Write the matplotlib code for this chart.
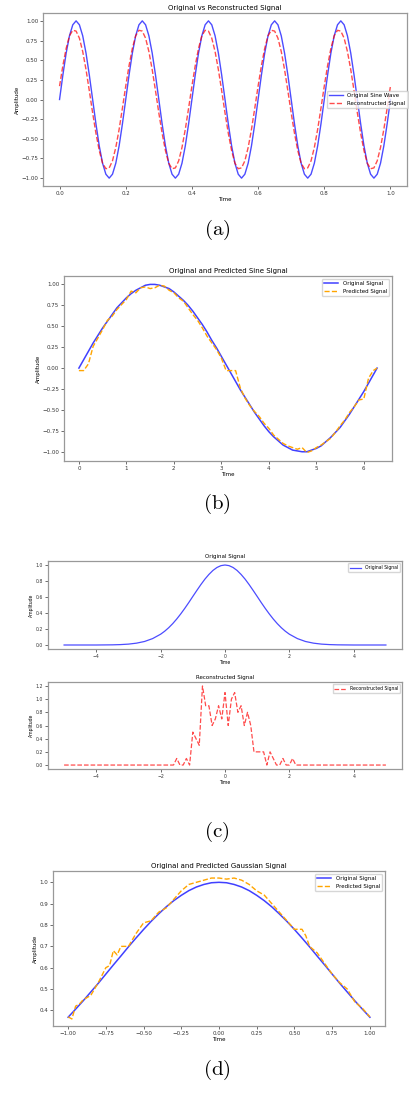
import numpy as np
import matplotlib
matplotlib.use('Agg')
import matplotlib.pyplot as plt

plt.rcParams['mathtext.fontset'] = 'cm'

# (a) 5 Hz sine, 0..1 s
t_a = [round(0.01 * i, 2) for i in range(101)]
orig_a = [0, 0.31, 0.59, 0.81, 0.95, 1.0, 0.95, 0.81, 0.59, 0.31, 0, -0.31, -0.59, -0.81, -0.95, -1.0, -0.95, -0.81, -0.59, -0.31,
          0, 0.31, 0.59, 0.81, 0.95, 1.0, 0.95, 0.81, 0.59, 0.31, 0, -0.31, -0.59, -0.81, -0.95, -1.0, -0.95, -0.81, -0.59, -0.31,
          0, 0.31, 0.59, 0.81, 0.95, 1.0, 0.95, 0.81, 0.59, 0.31, 0, -0.31, -0.59, -0.81, -0.95, -1.0, -0.95, -0.81, -0.59, -0.31,
          0, 0.31, 0.59, 0.81, 0.95, 1.0, 0.95, 0.81, 0.59, 0.31, 0, -0.31, -0.59, -0.81, -0.95, -1.0, -0.95, -0.81, -0.59, -0.31,
          0, 0.31, 0.59, 0.81, 0.95, 1.0, 0.95, 0.81, 0.59, 0.31, 0, -0.31, -0.59, -0.81, -0.95, -1.0, -0.95, -0.81, -0.59, -0.31,
          0]
recon_a = [0.17, 0.43, 0.65, 0.81, 0.88, 0.87, 0.78, 0.61, 0.38, 0.11, -0.17, -0.43, -0.65, -0.81, -0.88, -0.87, -0.78, -0.61, -0.38, -0.11,
           0.17, 0.43, 0.65, 0.81, 0.88, 0.87, 0.78, 0.61, 0.38, 0.11, -0.17, -0.43, -0.65, -0.81, -0.88, -0.87, -0.78, -0.61, -0.38, -0.11,
           0.17, 0.43, 0.65, 0.81, 0.88, 0.87, 0.78, 0.61, 0.38, 0.11, -0.17, -0.43, -0.65, -0.81, -0.88, -0.87, -0.78, -0.61, -0.38, -0.11,
           0.17, 0.43, 0.65, 0.81, 0.88, 0.87, 0.78, 0.61, 0.38, 0.11, -0.17, -0.43, -0.65, -0.81, -0.88, -0.87, -0.78, -0.61, -0.38, -0.11,
           0.17, 0.43, 0.65, 0.81, 0.88, 0.87, 0.78, 0.61, 0.38, 0.11, -0.17, -0.43, -0.65, -0.81, -0.88, -0.87, -0.78, -0.61, -0.38, -0.11,
           0.17]

# (b) one period of sine
t_b = [round(0.1 * i, 1) for i in range(63)] + [6.28]
orig_b = [0.00, 0.10, 0.20, 0.30, 0.39, 0.48, 0.56, 0.64, 0.72, 0.78, 0.84, 0.89, 0.93, 0.96, 0.99, 1.00,
          1.00, 0.99, 0.97, 0.95, 0.91, 0.86, 0.81, 0.75, 0.68, 0.60, 0.52, 0.43, 0.33, 0.24, 0.14, 0.04,
          -0.06, -0.16, -0.26, -0.35, -0.44, -0.53, -0.61, -0.69, -0.76, -0.82, -0.87, -0.92, -0.95, -0.98,
          -0.99, -1.00, -1.00, -0.98, -0.96, -0.93, -0.88, -0.83, -0.77, -0.71, -0.63, -0.55, -0.46, -0.37,
          -0.28, -0.18, -0.08, 0.00]
pred_b = [-0.03, -0.03, 0.05, 0.26, 0.36, 0.46, 0.57, 0.62, 0.70, 0.76, 0.82, 0.92, 0.90, 0.96, 0.97, 0.95,
          0.96, 0.99, 0.98, 0.93, 0.90, 0.84, 0.80, 0.72, 0.64, 0.57, 0.48, 0.38, 0.30, 0.22, 0.12, -0.03,
          -0.03, -0.03, -0.24, -0.36, -0.45, -0.52, -0.58, -0.66, -0.72, -0.80, -0.85, -0.90, -0.93, -0.95,
          -0.97, -0.95, -1.01, -0.99, -0.95, -0.92, -0.88, -0.84, -0.77, -0.69, -0.62, -0.53, -0.46, -0.38,
          -0.37, -0.12, -0.03, 0.00]

# (c) gaussian, original and reconstructed
t_c = [-5.0, -4.75, -4.5, -4.25, -4.0, -3.75, -3.5, -3.25, -3.0, -2.75, -2.5, -2.25, -2.0, -1.875, -1.75,
       -1.625, -1.5, -1.375, -1.25, -1.125, -1.0, -0.875, -0.75, -0.625, -0.5, -0.375, -0.25, -0.125, 0.0,
       0.125, 0.25, 0.375, 0.5, 0.625, 0.75, 0.875, 1.0, 1.125, 1.25, 1.375, 1.5, 1.625, 1.75, 1.875, 2.0,
       2.25, 2.5, 2.75, 3.0, 3.25, 3.5, 3.75, 4.0, 4.25, 4.5, 4.75, 5.0]
orig_c = [0.000, 0.000, 0.000, 0.000, 0.000, 0.001, 0.002, 0.005, 0.011, 0.023, 0.044, 0.080, 0.135, 0.172, 0.216,
          0.267, 0.325, 0.389, 0.458, 0.531, 0.607, 0.682, 0.755, 0.823, 0.882, 0.932, 0.969, 0.992, 1.000,
          0.992, 0.969, 0.932, 0.882, 0.823, 0.755, 0.682, 0.607, 0.531, 0.458, 0.389, 0.325, 0.267, 0.216, 0.172, 0.135,
          0.080, 0.044, 0.023, 0.011, 0.005, 0.002, 0.001, 0.000, 0.000, 0.000, 0.000, 0.000]
t_c_rec = [-5.0, -1.6, -1.5, -1.4, -1.3, -1.2, -1.1, -1.0, -0.9, -0.8, -0.7, -0.6, -0.5, -0.4, -0.3, -0.2, -0.1,
           0.0, 0.1, 0.2, 0.3, 0.4, 0.5, 0.6, 0.7, 0.8, 0.9, 1.0, 1.1, 1.2, 1.3, 1.4, 1.5, 1.6, 1.7, 1.8, 1.9,
           2.0, 2.1, 2.2, 5.0]
recon_c = [0.0, 0.0, 0.1, 0.0, 0.0, 0.1, 0.0, 0.5, 0.4, 0.3, 1.2, 0.9, 0.9, 0.6, 0.7, 0.9, 0.7,
           1.1, 0.6, 1.0, 1.1, 0.8, 0.9, 0.6, 0.8, 0.6, 0.2, 0.2, 0.2, 0.2, 0.0, 0.2, 0.1, 0.0, 0.0, 0.1, 0.0,
           0.0, 0.1, 0.0, 0.0]

# (d) gaussian on -1..1
t_d = [round(-1 + 0.05 * i, 2) for i in range(41)]
orig_d = [0.368, 0.406, 0.445, 0.486, 0.527, 0.570, 0.613, 0.655, 0.698, 0.739, 0.779, 0.817, 0.852, 0.885,
          0.914, 0.939, 0.961, 0.978, 0.990, 0.998, 1.000, 0.998, 0.990, 0.978, 0.961, 0.939, 0.914, 0.885,
          0.852, 0.817, 0.779, 0.739, 0.698, 0.655, 0.613, 0.570, 0.527, 0.486, 0.445, 0.406, 0.368]
t_d_pred = [-1.0, -0.975, -0.95, -0.925, -0.9, -0.85, -0.8, -0.75, -0.725, -0.7, -0.675, -0.65, -0.6, -0.55,
            -0.5, -0.45, -0.4, -0.35, -0.3, -0.25, -0.2, -0.15, -0.1, -0.05, 0.0, 0.05, 0.1, 0.15, 0.2, 0.25,
            0.3, 0.35, 0.4, 0.45, 0.5, 0.55, 0.575, 0.6, 0.65, 0.7, 0.75, 0.8, 0.85, 0.9, 0.95, 1.0]
pred_d = [0.37, 0.36, 0.42, 0.43, 0.45, 0.47, 0.53, 0.60, 0.61, 0.68, 0.66, 0.70, 0.70, 0.76,
          0.81, 0.82, 0.86, 0.88, 0.92, 0.96, 0.99, 1.00, 1.01, 1.02, 1.02, 1.015, 1.02, 1.01, 0.99, 0.96,
          0.94, 0.90, 0.86, 0.82, 0.78, 0.78, 0.75, 0.70, 0.67, 0.62, 0.57, 0.53, 0.50, 0.44, 0.41, 0.37]

W, H = 409, 1105
fig = plt.figure(figsize=(W / 100, H / 100), dpi=100)
BLUE = '#4040ff'


def box(l, t, r, b):
    return [l / W, 1 - b / H, (r - l) / W, (b - t) / H]


def style(ax, fs):
    ax.tick_params(labelsize=fs, length=2, width=0.5, pad=1.5, colors='#333333')
    for s in ax.spines.values():
        s.set_color('#999999')
        s.set_linewidth(0.9)


# (a)
ax = fig.add_axes(box(43, 13, 407, 186))
ax.plot(t_a, orig_a, color='blue', alpha=0.7, lw=1.0, label='Original Sine Wave')
ax.plot(t_a, recon_a, color='red', alpha=0.7, lw=1.0, ls='--', label='Reconstructed Signal')
ax.set_title('Original vs Reconstructed Signal', fontsize=5, pad=2)
ax.set_xlabel('Time', fontsize=4, labelpad=1)
ax.set_ylabel('Amplitude', fontsize=4, labelpad=1)
ax.set_yticks([-1.0, -0.75, -0.5, -0.25, 0.0, 0.25, 0.5, 0.75, 1.0])
style(ax, 4)
ax.legend(loc='center right', bbox_to_anchor=(1.01, 0.5), fontsize=4, handlelength=2.5)
fig.text(217 / W, 1 - 230 / H, r'$\mathrm{(a)}$', fontsize=15, ha='center', va='center')

# (b)
ax = fig.add_axes(box(64, 276, 392, 461))
ax.plot(t_b, orig_b, color=BLUE, lw=1.1, label='Original Signal')
ax.plot(t_b, pred_b, color='orange', lw=1.0, ls='--', label='Predicted Signal')
ax.set_title('Original and Predicted Sine Signal', fontsize=5, pad=2)
ax.set_xlabel('Time', fontsize=4, labelpad=1)
ax.set_ylabel('Amplitude', fontsize=4, labelpad=1)
ax.set_yticks([-1.0, -0.75, -0.5, -0.25, 0.0, 0.25, 0.5, 0.75, 1.0])
style(ax, 4)
ax.legend(loc='upper right', fontsize=4, handlelength=2.5)
fig.text(217 / W, 1 - 504 / H, r'$\mathrm{(b)}$', fontsize=15, ha='center', va='center')

# (c)
ax = fig.add_axes(box(48, 561, 402, 649))
ax.plot(t_c, orig_c, color='blue', alpha=0.7, lw=0.9, label='Original Signal')
ax.set_title('Original Signal', fontsize=4, pad=2)
ax.set_xlabel('Time', fontsize=3.3, labelpad=1)
ax.set_ylabel('Amplitude', fontsize=3.3, labelpad=1)
style(ax, 3.3)
ax.legend(loc='upper right', fontsize=3.3, handlelength=2.5)

ax = fig.add_axes(box(48, 682, 402, 769))
ax.plot(t_c_rec, recon_c, color='red', alpha=0.7, lw=0.9, ls='--', label='Reconstructed Signal')
ax.set_title('Reconstructed Signal', fontsize=4, pad=2)
ax.set_xlabel('Time', fontsize=3.3, labelpad=1)
ax.set_ylabel('Amplitude', fontsize=3.3, labelpad=1)
ax.set_xticks([-4, -2, 0, 2, 4])
style(ax, 3.3)
ax.legend(loc='upper right', fontsize=3.3, handlelength=2.5)
fig.text(217 / W, 1 - 832 / H, r'$\mathrm{(c)}$', fontsize=15, ha='center', va='center')

# (d)
ax = fig.add_axes(box(53, 871, 385, 1026))
ax.plot(t_d, orig_d, color=BLUE, lw=1.1, label='Original Signal')
ax.plot(t_d_pred, pred_d, color='orange', lw=1.0, ls='--', label='Predicted Signal')
ax.set_title('Original and Predicted Gaussian Signal', fontsize=5, pad=2)
ax.set_xlabel('Time', fontsize=4, labelpad=1)
ax.set_ylabel('Amplitude', fontsize=4, labelpad=1)
style(ax, 4)
ax.legend(loc='upper right', fontsize=4, handlelength=2.5)
fig.text(217 / W, 1 - 1070 / H, r'$\mathrm{(d)}$', fontsize=15, ha='center', va='center')

fig.savefig('out.png', dpi=100)
